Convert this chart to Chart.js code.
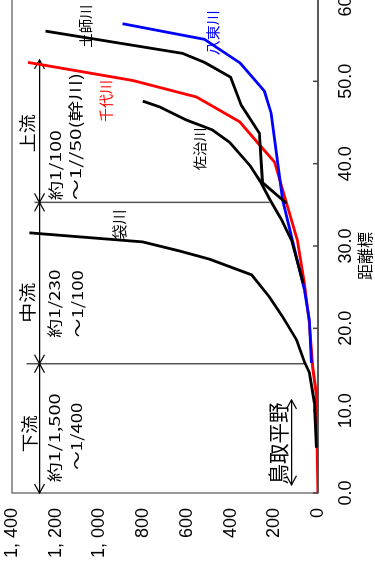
<!DOCTYPE html>
<html>
<head>
<meta charset="utf-8">
<script src="https://cdn.jsdelivr.net/npm/chart.js@4.4.1/dist/chart.umd.min.js"></script>
<style>
    html, body { margin: 0; padding: 0; background: #fff; }
    body { width: 375px; height: 569px; overflow: hidden; position: relative; }
    /* chart is drawn in landscape, then turned a quarter to the left */
    #wrap {
        position: absolute; left: 0; top: 0;
        width: 571px; height: 375px;
        transform-origin: 0 0;
        transform: translateY(569px) rotate(-90deg);
    }
</style>
</head>
<body>
<div id="wrap"><canvas id="profile" width="571" height="375"></canvas></div>
<script>
// ===================================
// 千代川水系 河床縦断図 (distance vs elevation)
// ===================================

const distTicks = [0, 10, 20, 30, 40, 50, 60];
const elevTicks = [0, 200, 400, 600, 800, 1000, 1200, 1400];

// 千代川 (main stream)
const chizuDist = [52.3, 50.1, 48.1, 45.1, 42.3, 40.2, 30.7, 25.5, 20.6, 15.2, 12.1, 0];
const chizuElev = [1327, 847, 556, 359, 268, 199, 94, 62, 39, 24, 8, 1];

// 八東川
const hattoDist = [57.0, 55.1, 52.2, 48.8, 46.1, 35.6, 30.7, 24.7, 21.0, 15.8];
const hattoElev = [894, 519, 355, 245, 214, 162, 117, 62, 39, 30];

// 土師川
const hajiDist = [56.1, 53.4, 52.3, 50.5, 47.1, 43.7, 37.7, 35.2];
const hajiElev = [1247, 620, 519, 400, 351, 268, 254, 145];

// 佐治川
const sajiDist = [47.6, 46.9, 45.3, 44.1, 42.6, 39.7, 37.8, 35.5, 33.2, 30.7, 25.5];
const sajiElev = [802, 725, 602, 483, 405, 309, 263, 217, 167, 121, 68];

// 袋川
const fukuroDist = [31.6, 30.5, 29.4, 28.4, 26.5, 23.8, 21.4, 18.6, 15.9, 14.6, 10.9, 5.5];
const fukuroElev = [1320, 803, 634, 496, 304, 222, 162, 98, 62, 39, 16, 7];

// reach boundaries (distance) and the bars drawn at them
const reachBounds = [52.6, 35.3, 15.7, 0];
const plainSpan = [1.0, 11.3];

const toPoints = (xs, ys) => xs.map((x, i) => ({ x: x, y: ys[i] }));

// annotation placement, in data units
const notes = [
    { text: '上流', d: 43.7, e: 1331, size: 17, len: 38 },
    { text: '約1/100', d: 39.8, e: 1201, size: 15, len: 70 },
    { text: '～1//50(幹川)', d: 43.3, e: 1110, size: 15, len: 127 },
    { text: '千代川', d: 47.6, e: 972, size: 14, len: 42, color: '#ff0000' },
    { text: '土師川', d: 56.7, e: 1063, size: 14, len: 43 },
    { text: '八東川', d: 55.9, e: 483, size: 14, len: 45, color: '#0000ff' },
    { text: '佐治川', d: 41.8, e: 542, size: 14, len: 43 },
    { text: '袋川', d: 32.6, e: 908, size: 15, len: 30 },
    { text: '中流', d: 23.1, e: 1329, size: 17, len: 40 },
    { text: '約1/230', d: 23.0, e: 1205, size: 15, len: 68 },
    { text: '～1/100', d: 23.0, e: 1100, size: 15, len: 67 },
    { text: '下流', d: 7.2, e: 1320, size: 17, len: 37 },
    { text: '約1/1,500', d: 6.7, e: 1205, size: 15, len: 89 },
    { text: '～1/400', d: 6.9, e: 1105, size: 15, len: 67 },
    { text: '鳥取平野', d: 6.0, e: 185, size: 21, len: 82 }
];

function arrowHead(ctx, x, y, dir) {
    ctx.beginPath();
    ctx.moveTo(x - dir * 9, y - 5);
    ctx.lineTo(x, y);
    ctx.lineTo(x - dir * 9, y + 5);
    ctx.stroke();
}

const profileOverlay = {
    id: 'profileOverlay',
    beforeDatasetsDraw(chart) {
        const { ctx, chartArea: a, scales: { x, y } } = chart;
        ctx.save();

        // frame
        ctx.strokeStyle = '#777';
        ctx.lineWidth = 1.5;
        ctx.strokeRect(a.left, a.top, a.right - a.left, a.bottom - a.top);
        ctx.strokeStyle = '#444';
        ctx.beginPath();
        ctx.moveTo(a.left, a.bottom);
        ctx.lineTo(a.right, a.bottom);
        ctx.stroke();

        // inward tick marks on the distance axis
        distTicks.forEach(v => {
            const px = x.getPixelForValue(v);
            ctx.beginPath();
            ctx.moveTo(px, a.bottom);
            ctx.lineTo(px, a.bottom - 5);
            ctx.stroke();
        });

        // reach dividers
        ctx.strokeStyle = '#555';
        ctx.lineWidth = 1.5;
        [[35.3, 1297, 222], [15.7, 1334, 62]].forEach(([d, e0, e1]) => {
            const px = x.getPixelForValue(d);
            ctx.beginPath();
            ctx.moveTo(px, y.getPixelForValue(e0));
            ctx.lineTo(px, y.getPixelForValue(e1));
            ctx.stroke();
        });

        // reach arrows
        ctx.strokeStyle = '#000';
        ctx.lineWidth = 1.3;
        const ay = y.getPixelForValue(1274);
        ctx.beginPath();
        ctx.moveTo(x.getPixelForValue(reachBounds[0]), ay);
        ctx.lineTo(x.getPixelForValue(reachBounds[reachBounds.length - 1]), ay);
        ctx.stroke();
        for (let i = 0; i < reachBounds.length - 1; i++) {
            arrowHead(ctx, x.getPixelForValue(reachBounds[i]), ay, 1);
            arrowHead(ctx, x.getPixelForValue(reachBounds[i + 1]), ay, -1);
        }

        // 鳥取平野 arrow
        const py = y.getPixelForValue(121);
        const p0 = x.getPixelForValue(plainSpan[0]);
        const p1 = x.getPixelForValue(plainSpan[1]);
        ctx.beginPath();
        ctx.moveTo(p0, py);
        ctx.lineTo(p1, py);
        ctx.stroke();
        arrowHead(ctx, p0, py, -1);
        arrowHead(ctx, p1, py, 1);

        ctx.restore();
    },
    afterDatasetsDraw(chart) {
        const { ctx, scales: { x, y } } = chart;
        ctx.save();
        ctx.textAlign = 'center';
        ctx.textBaseline = 'middle';

        notes.forEach(n => {
            ctx.font = `${n.size}px "Noto Sans CJK JP", sans-serif`;
            ctx.fillStyle = n.color || '#000';
            const w = ctx.measureText(n.text).width;
            ctx.save();
            ctx.translate(x.getPixelForValue(n.d), y.getPixelForValue(n.e));
            ctx.scale(n.len / w, 1);
            ctx.fillText(n.text, 0, 0);
            ctx.restore();
        });

        // axis title
        ctx.font = '16px "Noto Sans CJK JP", sans-serif';
        ctx.fillStyle = '#000';
        ctx.fillText('距離標', x.getPixelForValue(28.8), 365);

        ctx.restore();
    }
};

function elevLabel(v) {
    if (v >= 1000) {
        return Math.floor(v / 1000) + ', ' + String(v % 1000).padStart(3, '0');
    }
    return String(v);
}

const lineStyle = { showLine: true, pointRadius: 0, borderWidth: 2.8, tension: 0, fill: false };

new Chart(document.getElementById('profile').getContext('2d'), {
    type: 'scatter',
    data: {
        datasets: [
            { label: '袋川', data: toPoints(fukuroDist, fukuroElev), borderColor: '#000', ...lineStyle },
            { label: '佐治川', data: toPoints(sajiDist, sajiElev), borderColor: '#000', ...lineStyle },
            { label: '土師川', data: toPoints(hajiDist, hajiElev), borderColor: '#000', ...lineStyle },
            { label: '八東川', data: toPoints(hattoDist, hattoElev), borderColor: '#0000ff', ...lineStyle },
            { label: '千代川', data: toPoints(chizuDist, chizuElev), borderColor: '#ff0000', ...lineStyle }
        ]
    },
    options: {
        responsive: false,
        animation: false,
        layout: { padding: { left: 0, right: 1, top: 12, bottom: 0 } },
        plugins: {
            legend: { display: false },
            tooltip: { enabled: false }
        },
        scales: {
            x: {
                type: 'linear',
                position: 'bottom',
                min: 0,
                max: 60,
                afterBuildTicks: s => { s.ticks = distTicks.map(v => ({ value: v })); },
                afterFit: s => { s.height = 57; s.paddingLeft = 0; s.paddingRight = 0; },
                grid: { display: false, drawTicks: false },
                border: { display: false },
                ticks: {
                    padding: 17,
                    color: '#000',
                    maxRotation: 0,
                    autoSkip: false,
                    font: { family: 'Liberation Sans', size: 18 },
                    callback: v => Number(v).toFixed(1)
                }
            },
            y: {
                type: 'linear',
                min: 0,
                max: 1400,
                afterBuildTicks: s => { s.ticks = elevTicks.map(v => ({ value: v })); },
                afterFit: s => { s.width = 76; s.paddingTop = 0; s.paddingBottom = 0; },
                grid: { display: false, drawTicks: false },
                border: { display: false },
                ticks: {
                    padding: 15,
                    color: '#000',
                    autoSkip: false,
                    font: { family: 'Liberation Sans', size: 18 },
                    callback: v => elevLabel(v)
                }
            }
        }
    },
    plugins: [profileOverlay]
});
</script>
</body>
</html>
